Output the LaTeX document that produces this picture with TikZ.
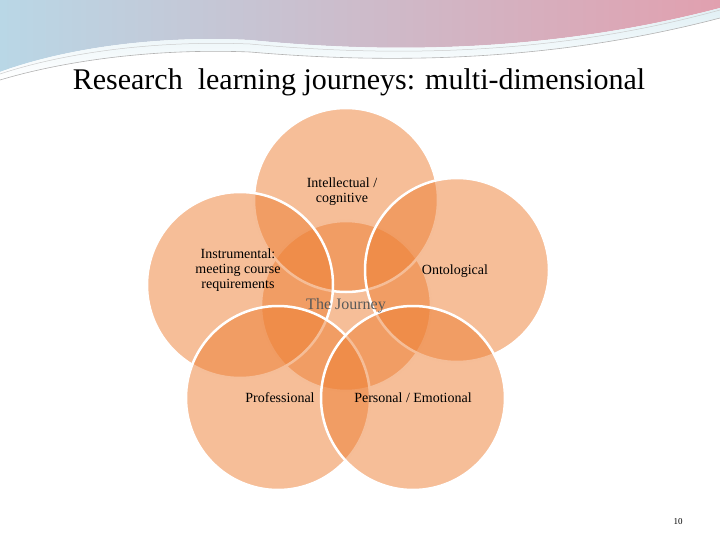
\documentclass[tikz,border=0pt]{standalone}
\usepackage{fontspec}
\setmainfont{Liberation Serif}
\begin{document}
\begin{tikzpicture}[x=1pt,y=-1pt,
  petal/.style={fill={rgb,255:red,237;green,125;blue,49},fill opacity=0.5,draw=white,line width=2.5pt,draw opacity=1},
  lbl/.style={font=\fontsize{14}{15}\selectfont,align=center,text=black}]
\useasboundingbox (0,0) rectangle (720,540);
% header swoosh
\shade[left color={rgb,255:red,185;green,215;blue,230},right color={rgb,255:red,225;green,160;blue,175}]
 (0,0) -- (720,0) -- (720,8) .. controls (560,50) and (400,55) .. (250,40) .. controls (150,35) and (60,50) .. (0,72) -- cycle;
\shade[top color={rgb,255:red,225;green,240;blue,245},bottom color=white]
 (0,72) .. controls (60,50) and (150,35) .. (250,40) .. controls (400,55) and (560,50) .. (720,8) -- (720,18) .. controls (560,60) and (400,65) .. (250,52) .. controls (150,48) and (60,62) .. (0,80) -- cycle;
\draw[gray!60,line width=0.6pt] (0,80) .. controls (60,62) and (150,48) .. (250,52) .. controls (400,65) and (560,60) .. (720,18);
\draw[gray!40,line width=0.5pt] (0,74) .. controls (60,54) and (150,40) .. (250,44) .. controls (400,58) and (560,54) .. (720,10);
\node[font=\fontsize{30}{34}\selectfont] (title) at (359,82) {Research\ \ learning journeys: multi-dimensional};
% circles
\path[petal] (346,306) circle (85);
\path[petal] (346,200) circle (92);
\path[petal] (240,285) circle (93);
\path[petal] (457,270) circle (92);
\path[petal] (278,398) circle (92);
\path[petal] (413,398) circle (92);
\node[lbl,text=black!65] (c) at (346,306) {\fontsize{16}{18}\selectfont The Journey};
\node[lbl] (t) at (342,192) {Intellectual /\\cognitive};
\node[lbl] (l) at (238,270) {Instrumental:\\meeting course\\requirements};
\node[lbl] (r) at (455,271) {Ontological};
\node[lbl] (bl) at (280,398) {Professional};
\node[lbl] (br) at (413,398) {Personal / Emotional};
\node[font=\fontsize{9}{10}\selectfont] (pn) at (678,522) {10};
\end{tikzpicture}
\end{document}
